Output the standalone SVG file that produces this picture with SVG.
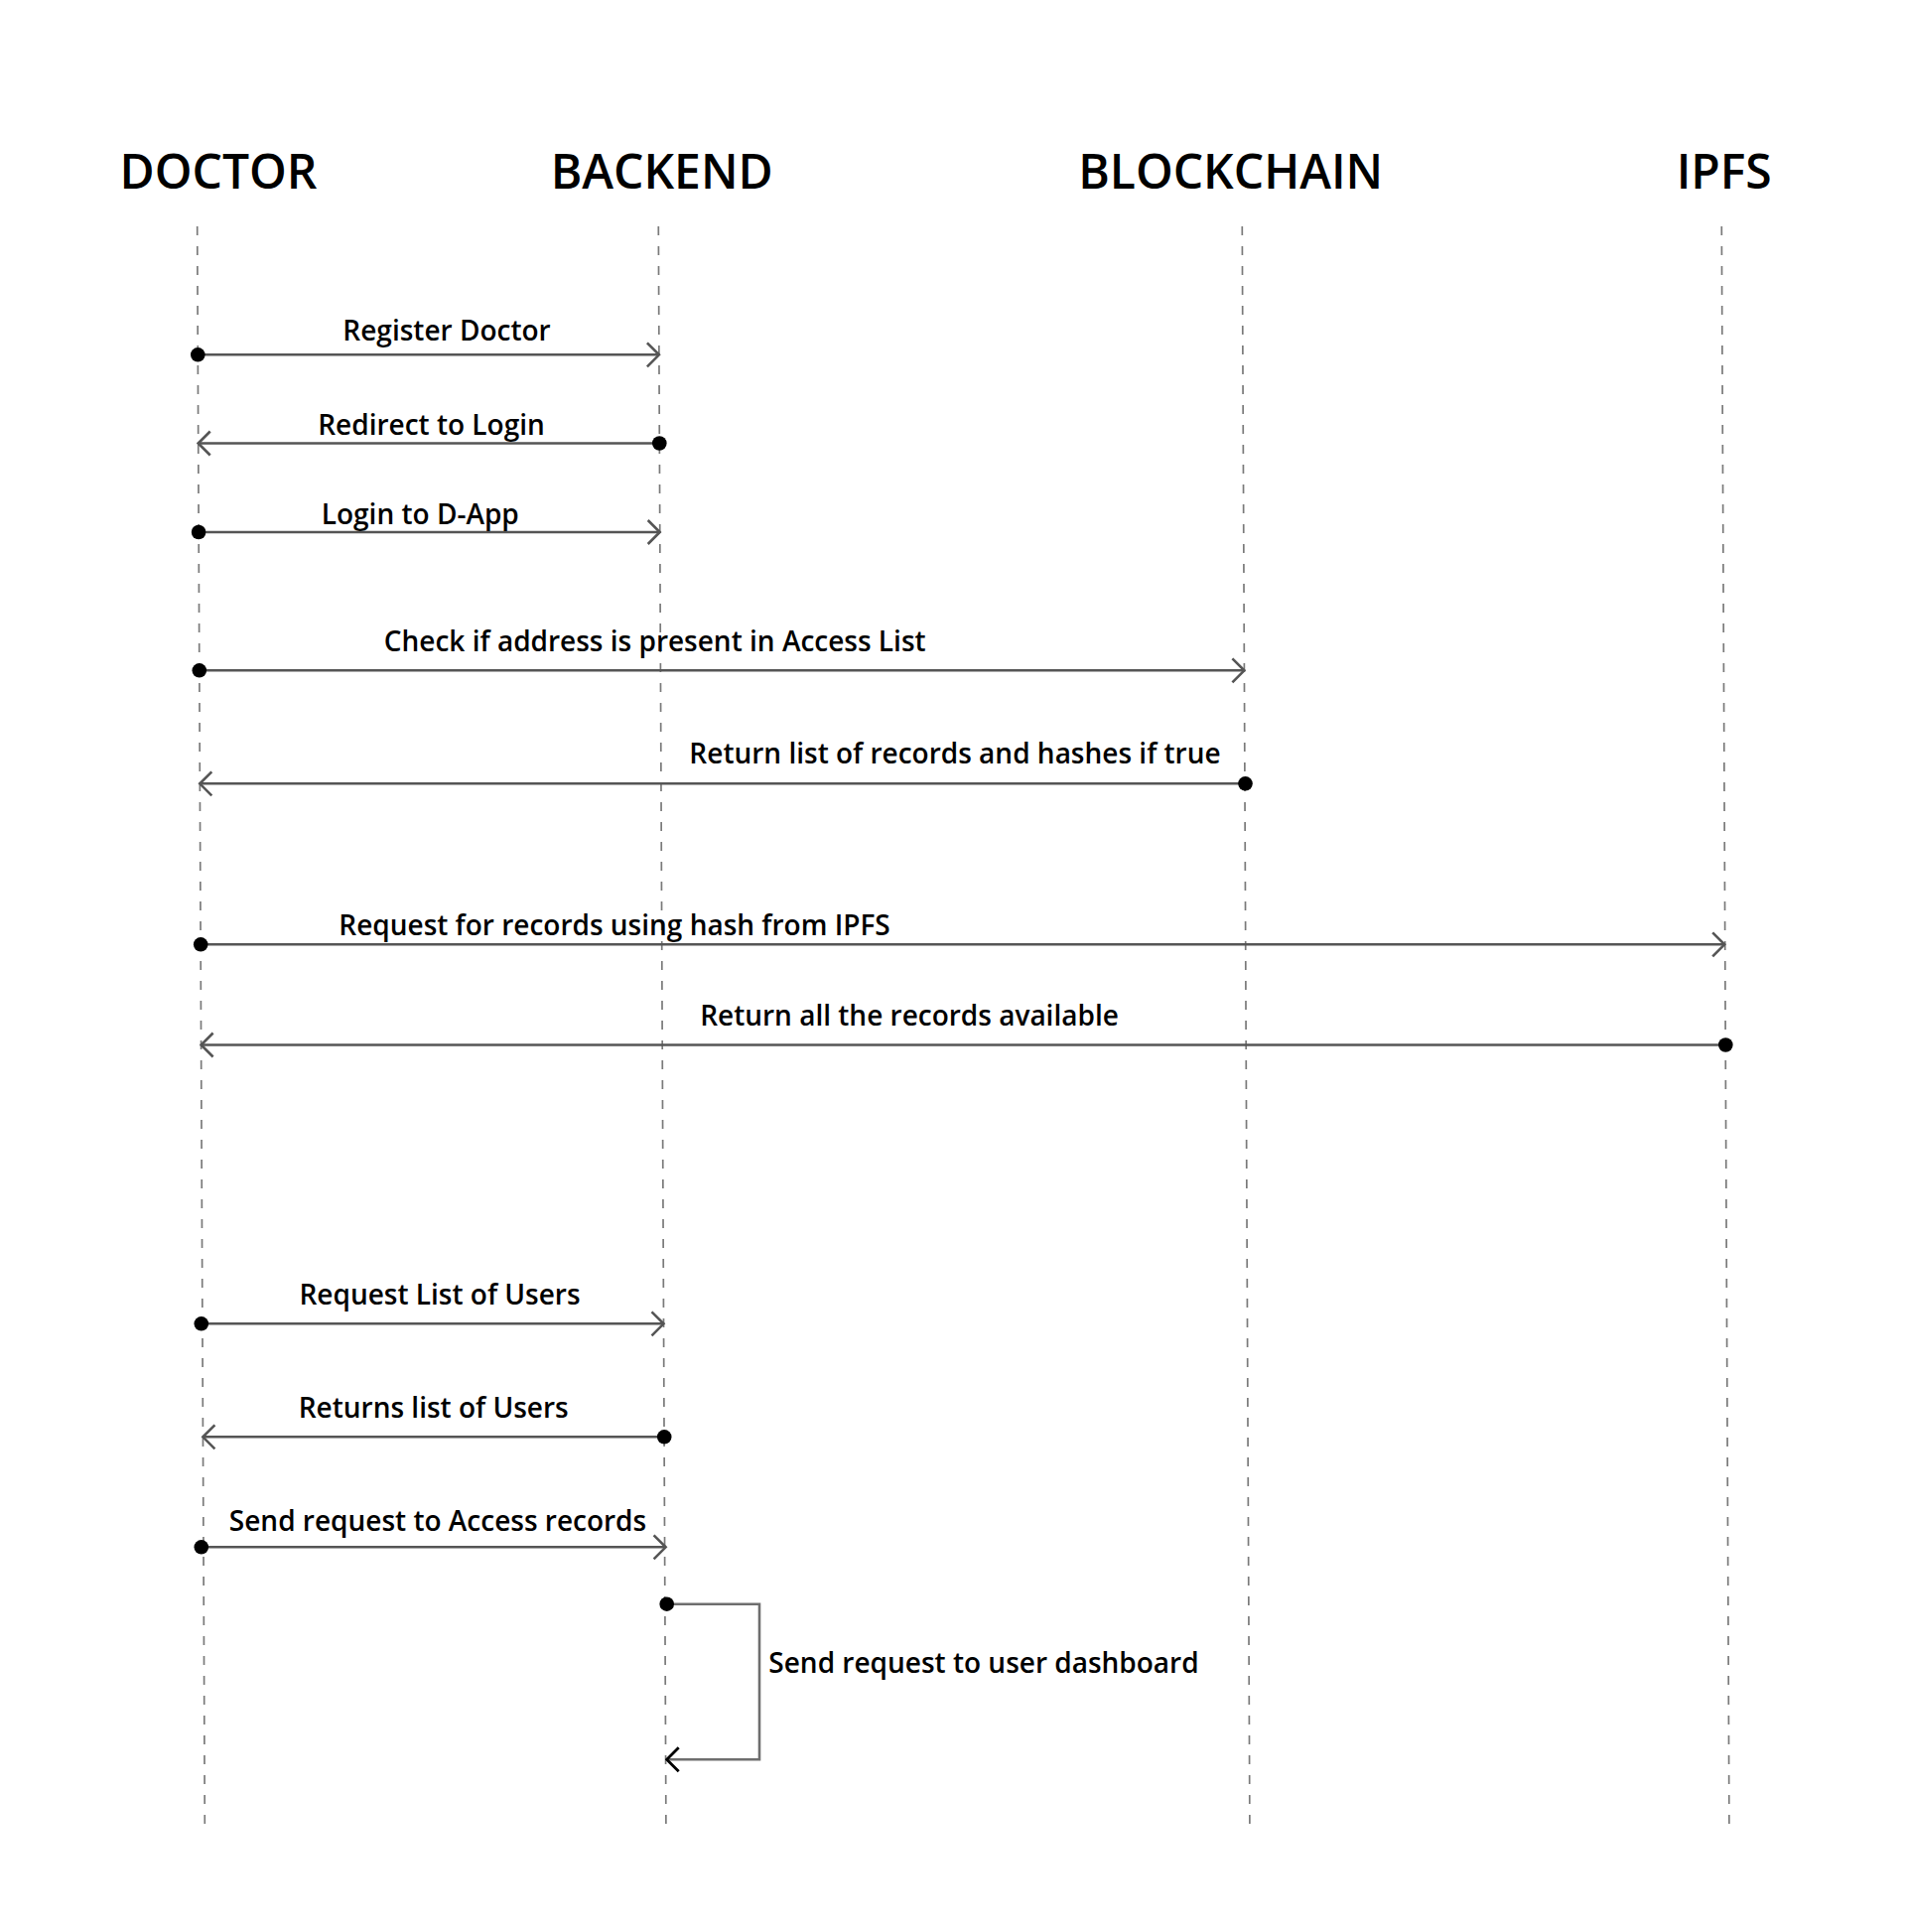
<svg xmlns="http://www.w3.org/2000/svg" width="1920" height="1946" viewBox="0 0 1920 1946">
<style>
.bg{fill:#ffffff}
.title{font-family:"Open Sans","Noto Sans","Liberation Sans",sans-serif;font-size:48px;font-weight:600;fill:#000;text-anchor:middle}
.lbl{font-family:"Open Sans","Noto Sans","Liberation Sans",sans-serif;font-size:28px;font-weight:600;fill:#000;text-anchor:middle}
.life{stroke:#7a7a7a;stroke-width:1.7;stroke-dasharray:9 11;fill:none}
.msg{stroke:#555555;stroke-width:2.6;fill:none;marker-start:url(#dot);marker-end:url(#arrow)}
.loop{stroke:#6e6e6e;stroke-width:2.6;fill:none;marker-start:url(#dot);marker-end:url(#arrowBlack)}
</style>
<defs>
<marker id="arrow" markerUnits="userSpaceOnUse" viewBox="0 0 16 28" refX="14" refY="14" markerWidth="16" markerHeight="28" orient="auto">
<path d="M2,2 L14,14 L2,26" fill="none" stroke="#555555" stroke-width="2.6"/>
</marker>
<marker id="arrowBlack" markerUnits="userSpaceOnUse" viewBox="0 0 16 28" refX="14" refY="14" markerWidth="16" markerHeight="28" orient="auto">
<path d="M2,2 L14,14 L2,26" fill="none" stroke="#000000" stroke-width="2.8"/>
</marker>
<marker id="dot" markerUnits="userSpaceOnUse" viewBox="0 0 16 16" refX="8" refY="8" markerWidth="16" markerHeight="16" orient="auto">
<circle cx="8" cy="8" r="7.3" fill="#000000"/>
</marker>
</defs>
<rect class="bg" x="0" y="0" width="1920" height="1946"/>
<g id="node-doctor">
<text class="title" x="220" y="189.5">DOCTOR</text>
<line class="life" x1="198.7" y1="228" x2="206.3" y2="1838"/>
</g>
<g id="node-backend">
<text class="title" x="666.7" y="189.5">BACKEND</text>
<line class="life" x1="663.3" y1="228" x2="670.9" y2="1838"/>
</g>
<g id="node-blockchain">
<text class="title" x="1239.7" y="189.5">BLOCKCHAIN</text>
<line class="life" x1="1251.3" y1="228" x2="1258.9" y2="1838"/>
</g>
<g id="node-ipfs">
<text class="title" x="1736.7" y="189.5">IPFS</text>
<line class="life" x1="1734.3" y1="228" x2="1741.9" y2="1838"/>
</g>
<g id="connectors">
<path class="msg" d="M199.3,357.3 L663.9,357.3"/>
<path class="msg" d="M664.3,446.5 L199.7,446.5"/>
<path class="msg" d="M200.1,536 L664.7,536"/>
<path class="msg" d="M200.8,675.3 L1253.4,675.3"/>
<path class="msg" d="M1254.5,789.3 L201.3,789.3"/>
<path class="msg" d="M202.2,951.3 L1737.2,951.3"/>
<path class="msg" d="M1738.3,1052.5 L202.6,1052.5"/>
<path class="msg" d="M202.8,1333.3 L668.5,1333.3"/>
<path class="msg" d="M669.2,1447.3 L204.4,1447.3"/>
<path class="msg" d="M202.8,1558.3 L670.6,1558.3"/>
<path class="loop" d="M671.7,1615.7 L765,1615.7 L765,1772.3 L671.7,1772.3"/>
</g>
<g id="labels">
<text class="lbl" x="450" y="343.3">Register Doctor</text>
<text class="lbl" x="434.5" y="438.3">Redirect to Login</text>
<text class="lbl" x="423.3" y="527.7">Login to D-App</text>
<text class="lbl" x="659.7" y="656">Check if address is present in Access List</text>
<text class="lbl" x="962" y="769.3">Return list of records and hashes if true</text>
<text class="lbl" x="619" y="941.7">Request for records using hash from IPFS</text>
<text class="lbl" x="916" y="1033.3">Return all the records available</text>
<text class="lbl" x="443" y="1314.3">Request List of Users</text>
<text class="lbl" x="436.7" y="1427.7">Returns list of Users</text>
<text class="lbl" x="441" y="1541.7">Send request to Access records</text>
<text class="lbl" x="991" y="1685">Send request to user dashboard</text>
</g>
</svg>
